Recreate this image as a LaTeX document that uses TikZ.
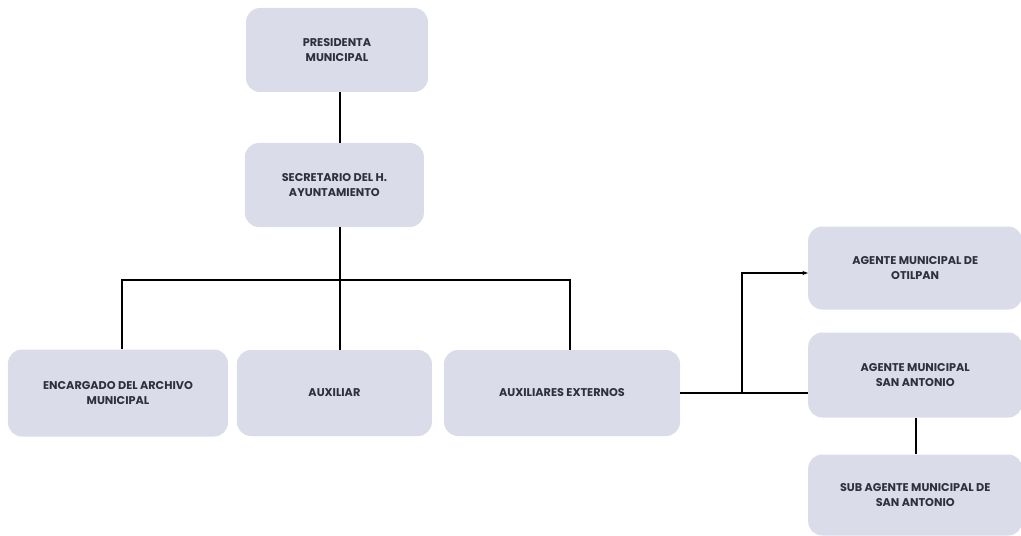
\documentclass[tikz,border=0pt]{standalone}
\usepackage{fontspec}
\setmainfont{Poppins}
\usepackage{xcolor}
\usetikzlibrary{calc, arrows.meta}

\definecolor{cajagris}{RGB}{218,220,234}
\definecolor{textogris}{RGB}{48,48,60}

\begin{document}
\begin{tikzpicture}[
    cargo/.style={rectangle, rounded corners=0.35cm, fill=cajagris, draw=none,
        text=textogris, align=center, minimum height=2.1cm,
        font=\fontsize{8}{10.5}\selectfont\bfseries},
    enlace/.style={draw=black, line width=1.1pt}
    ]
        \useasboundingbox (0,0) rectangle (25.525,-13.4);

        %% Boxes
        \node (pres) [cargo, minimum width=4.55cm] at (8.425,-1.25) {PRESIDENTA\\MUNICIPAL};
        \node (sec) [cargo, minimum width=4.475cm] at (8.36,-4.625) {SECRETARIO DEL H.\\AYUNTAMIENTO};
        \node (enc) [cargo, minimum width=5.5cm, minimum height=2.175cm] at (2.95,-9.825) {ENCARGADO DEL ARCHIVO\\MUNICIPAL};
        \node (aux) [cargo, minimum width=4.875cm, minimum height=2.15cm] at (8.36,-9.825) {AUXILIAR};
        \node (ext) [cargo, minimum width=5.9cm, minimum height=2.15cm] at (14.05,-9.825) {AUXILIARES EXTERNOS};
        \node (oti) [cargo, minimum width=5.35cm, minimum height=2.075cm] at (22.88,-6.7) {AGENTE MUNICIPAL DE\\OTILPAN};
        \node (san) [cargo, minimum width=5.35cm, minimum height=2.125cm] at (22.88,-9.375) {AGENTE MUNICIPAL\\SAN ANTONIO};
        \node (sub) [cargo, minimum width=5.35cm, minimum height=2.025cm] at (22.88,-12.375) {SUB AGENTE MUNICIPAL DE\\SAN ANTONIO};

        %% Branch points
        \coordinate (reparto) at (8.5,-7);
        \coordinate (codo) at (18.55,-9.825);

        %% Lines
        \draw [enlace] (pres.south -| reparto) -- (sec.north -| reparto);
        \draw [enlace] (sec.south -| reparto) -- (reparto);
        \draw [enlace] (enc.north -| 3.05,0) -- (3.05,-7) -- (14.25,-7) -- (ext.north -| 14.25,0);
        \draw [enlace] (reparto) -- (aux.north -| reparto);
        \draw [enlace] (ext.east) -- (ext.east -| san.west);
        \draw [enlace, -{Stealth[length=4pt, width=3pt]}] (codo) |- ($(oti.west) + (0,-0.125)$);
        \draw [enlace] (san.south -| 22.9,0) -- (sub.north -| 22.9,0);

    \end{tikzpicture}
\end{document}
